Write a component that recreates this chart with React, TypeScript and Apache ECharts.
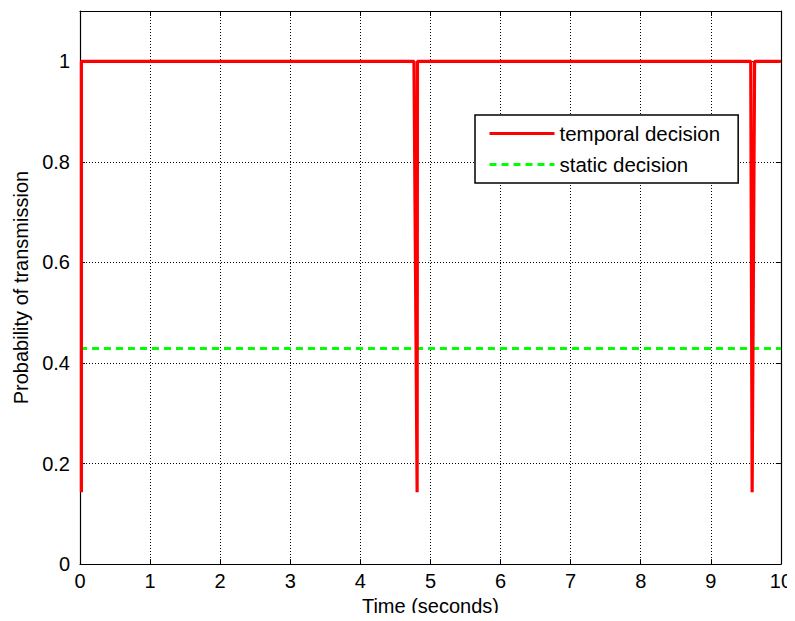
import React, { useEffect, useRef } from "react";
import * as echarts from "echarts";

// Transmission probability over time
const temporalTimes = [0.02, 0.02, 4.765, 4.81, 4.815, 9.57, 9.59, 9.625, 10];
const temporalValues = [0.143, 1, 1, 0.143, 1, 1, 0.143, 1, 1];
const staticTimes = [0, 10];
const staticValues = [0.4286, 0.4286];
const xTicks = [0, 1, 2, 3, 4, 5, 6, 7, 8, 9, 10];

const FONT = "'Liberation Sans', Arial, Helvetica, sans-serif";

export default function App() {
  const ref = useRef<HTMLDivElement>(null);

  useEffect(() => {
    if (!ref.current) return;
    const chart = echarts.init(ref.current, undefined, { renderer: "svg" });

    const gridLine = { show: true, lineStyle: { color: "#000", width: 1, type: [1, 2] as number[] } };
    const frameLine = { show: true, onZero: false, lineStyle: { color: "#000", width: 1.2 } };
    const innerTick = { show: true, inside: true, length: 5, lineStyle: { color: "#000", width: 1 } };

    chart.setOption({
      animation: false,
      backgroundColor: "#fff",
      grid: { left: 80, right: 13, top: 11, bottom: 56, containLabel: false },
      legend: {
        left: 475,
        top: 115,
        orient: "vertical",
        data: ["temporal decision", "static decision"],
        backgroundColor: "#fff",
        borderColor: "#000",
        borderWidth: 1.5,
        borderRadius: 0,
        padding: [8, 18, 8, 13],
        itemWidth: 65,
        itemHeight: 14,
        itemGap: 10,
        itemStyle: { opacity: 0 },
        lineStyle: { width: 3 },
        textStyle: { fontSize: 20.5, lineHeight: 20, color: "#000", fontFamily: FONT },
      },
      xAxis: [
        {
          type: "value",
          min: xTicks[0],
          max: xTicks[xTicks.length - 1],
          interval: 1,
          name: "Time (seconds)",
          nameLocation: "middle",
          nameGap: 30,
          nameTextStyle: { fontSize: 20, color: "#000", fontFamily: FONT },
          axisLine: frameLine,
          axisTick: innerTick,
          axisLabel: { margin: 7, fontSize: 20, color: "#000", fontFamily: FONT },
          splitLine: gridLine,
        },
        {
          type: "value",
          position: "top",
          min: xTicks[0],
          max: xTicks[xTicks.length - 1],
          interval: 1,
          axisLine: frameLine,
          axisTick: innerTick,
          axisLabel: { show: false },
          splitLine: { show: false },
        },
      ],
      yAxis: [
        {
          type: "value",
          min: 0,
          max: 1.1,
          interval: 0.2,
          name: "Probability of transmission",
          nameLocation: "middle",
          nameGap: 46,
          nameTextStyle: { fontSize: 20, color: "#000", fontFamily: FONT },
          axisLine: frameLine,
          axisTick: innerTick,
          axisLabel: { margin: 10, fontSize: 20, color: "#000", fontFamily: FONT, showMaxLabel: false },
          splitLine: gridLine,
        },
        {
          type: "value",
          position: "right",
          min: 0,
          max: 1.1,
          interval: 0.2,
          axisLine: frameLine,
          axisTick: innerTick,
          axisLabel: { show: false },
          splitLine: { show: false },
        },
      ],
      series: [
        {
          name: "static decision",
          type: "line",
          data: staticTimes.map((t, i) => [t, staticValues[i]]),
          symbol: "none",
          lineStyle: { color: "#00ff00", width: 3, type: [7, 5] },
          itemStyle: { color: "#00ff00" },
          silent: true,
        },
        {
          name: "temporal decision",
          type: "line",
          data: temporalTimes.map((t, i) => [t, temporalValues[i]]),
          symbol: "none",
          lineStyle: { color: "#ff0000", width: 3.2 },
          itemStyle: { color: "#ff0000" },
          silent: true,
        },
      ],
    });

    return () => chart.dispose();
  }, []);

  return <div ref={ref} style={{ width: 795, height: 621, margin: -8 }} />;
}
